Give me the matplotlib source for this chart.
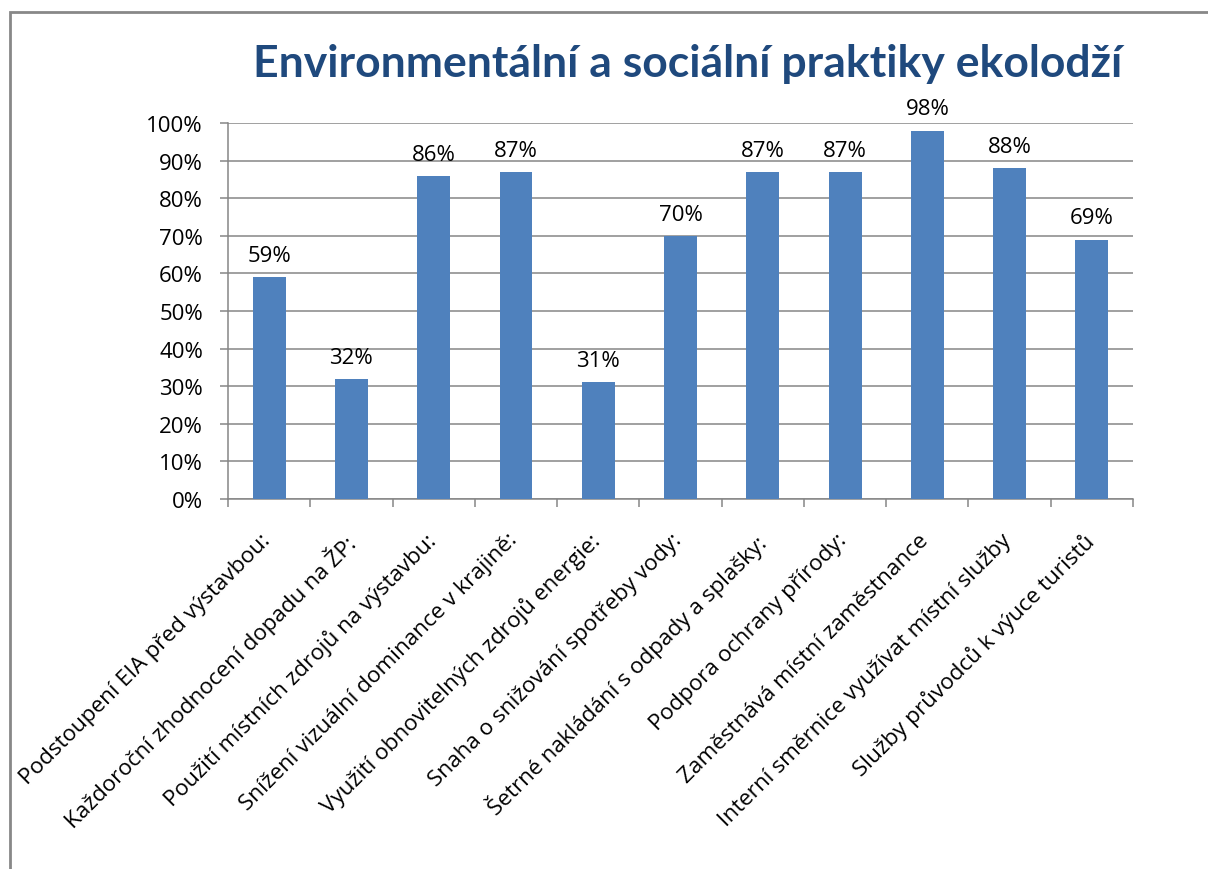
import matplotlib.pyplot as plt
from matplotlib.patches import Rectangle
from matplotlib.ticker import FixedLocator, PercentFormatter

# Data
categories = [
    "Podstoupení EIA před výstavbou:",
    "Každoroční zhodnocení dopadu na ŽP:",
    "Použití místních zdrojů na výstavbu:",
    "Snížení vizuální dominance v krajině:",
    "Využití obnovitelných zdrojů energie:",
    "Snaha o snižování spotřeby vody:",
    "Šetrné nakládání s odpady a splašky:",
    "Podpora ochrany přírody:",
    "Zaměstnává místní zaměstnance",
    "Interní směrnice využívat místní služby",
    "Služby průvodců k výuce turistů",
]
values = [59, 32, 86, 87, 31, 70, 87, 87, 98, 88, 69]

BAR_COLOR = "#4F81BD"
GRID_COLOR = "#868686"
TITLE_COLOR = "#1F497D"
FONT = ["Open Sans", "DejaVu Sans"]

plt.rcParams['font.family'] = FONT

fig = plt.figure(figsize=(12.08, 8.70), dpi=100)
ax = fig.add_axes([228 / 1208, 1 - 500 / 870, 905 / 1208, 376 / 870])

# outer chart frame
fig.patches.append(Rectangle((10 / 1208, -0.05), 1.1, 1 - 13 / 870 + 0.05,
                             transform=fig.transFigure, fill=False,
                             edgecolor="#888888", linewidth=2))

x = list(range(len(categories)))
ax.bar(x, values, width=0.4, color=BAR_COLOR, zorder=3)

for xi, v in zip(x, values):
    ax.annotate(f"{v}%", (xi, v), xytext=(0, 8), textcoords="offset points",
                ha="center", va="bottom", fontsize=16)

ax.set_xlim(-0.5, len(categories) - 0.5)
ax.set_ylim(0, 100)
ax.yaxis.set_major_locator(FixedLocator(range(0, 101, 10)))
ax.yaxis.set_major_formatter(PercentFormatter(decimals=0))
ax.grid(axis="y", color=GRID_COLOR, linewidth=1.1, zorder=0)

for s in ["top", "right"]:
    ax.spines[s].set_visible(False)
for s in ["left", "bottom"]:
    ax.spines[s].set_color(GRID_COLOR)
    ax.spines[s].set_linewidth(1.1)

# category boundary ticks on x axis
ax.set_xticks([i - 0.5 for i in range(len(categories) + 1)])
ax.set_xticklabels([])
ax.tick_params(axis="x", length=6, color=GRID_COLOR, width=1.1)
ax.tick_params(axis="y", length=6, color=GRID_COLOR, width=1.1, labelsize=16, pad=12)

for xi, lab in zip(x, categories):
    ax.text(xi - 0.11, -8, lab, rotation=45, ha="right", va="top",
            rotation_mode="anchor", fontsize=16.2, transform=ax.transData)

fig.text(688 / 1208, 1 - 64 / 870, "Environmentální a sociální praktiky ekolodží",
         ha="center", va="center", fontsize=32, fontweight="bold",
         color=TITLE_COLOR, family=["Lato", "DejaVu Sans"])

fig.savefig("out.png", dpi=100)
